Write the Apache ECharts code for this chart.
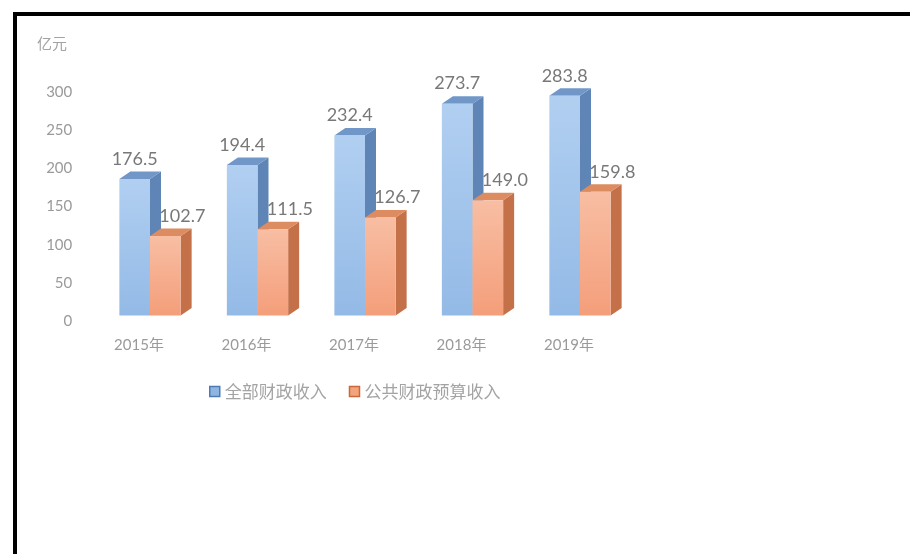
<!DOCTYPE html>
<html>
<head>
<meta charset="utf-8">
<script src="https://cdn.jsdelivr.net/npm/echarts@6/dist/echarts.min.js"></script>
<style>
  html, body { margin: 0; padding: 0; background: #ffffff; }
  #frame { position: absolute; left: 13px; top: 12px; width: 897px; height: 542px;
           border-left: 4px solid #000; border-top: 4px solid #000; box-sizing: border-box; }
  #chart { position: absolute; left: 0; top: 0; width: 910px; height: 554px; }
</style>
</head>
<body>
<div id="chart"></div>
<div id="frame"></div>
<script>
// Revenue by year, 亿元
const years = ['2015年', '2016年', '2017年', '2018年', '2019年'];
const totalRevenue = [176.5, 194.4, 232.4, 273.7, 283.8];
const budgetRevenue = [102.7, 111.5, 126.7, 149.0, 159.8];
const seriesNames = ['全部财政收入', '公共财政预算收入'];
const yTicks = [0, 50, 100, 150, 200, 250, 300];

// Shading for each pseudo-3D column: front gradient, top and side faces
const palette = [
  { frontTop: '#b1cff1', frontBottom: '#93bae6', top: '#7097c8', side: '#5f85b6', label: '#787878', legend: '#8fb5e2', legendBorder: '#4f7bb3' },
  { frontTop: '#f8bea3', frontBottom: '#f49e7a', top: '#dc8c60', side: '#c4714a', label: '#787878', legend: '#f3a47c', legendBorder: '#c9683a' }
];

const DEPTH_X = 11;
const DEPTH_Y = 7.5;

function makeRenderer(seriesIdx) {
  const c = palette[seriesIdx];
  return function (params, api) {
    const cat = api.value(0);
    const val = api.value(1);
    const base = api.coord([cat, 0]);
    const top = api.coord([cat, val]);
    const band = api.size([1, 0])[0];
    const w = band * 0.285;
    const x0 = seriesIdx === 0 ? base[0] - w : base[0];
    const x1 = x0 + w;
    const yb = base[1];
    const yt = top[1];
    const children = [
      { // side face
        type: 'polygon',
        shape: { points: [[x1, yt], [x1 + DEPTH_X, yt - DEPTH_Y], [x1 + DEPTH_X, yb - DEPTH_Y], [x1, yb]] },
        style: { fill: c.side }
      },
      { // top face
        type: 'polygon',
        shape: { points: [[x0, yt], [x0 + DEPTH_X, yt - DEPTH_Y], [x1 + DEPTH_X, yt - DEPTH_Y], [x1, yt]] },
        style: { fill: c.top }
      },
      { // front face
        type: 'rect',
        shape: { x: x0, y: yt, width: w, height: yb - yt },
        style: {
          fill: new echarts.graphic.LinearGradient(0, 0, 0, 1, [
            { offset: 0, color: c.frontTop },
            { offset: 1, color: c.frontBottom }
          ])
        }
      },
      { // value label
        type: 'text',
        x: x0 + w / 2 + (seriesIdx === 0 ? 0 : 17),
        y: yt - 20,
        style: {
          text: val.toFixed(1),
          fill: c.label,
          font: '18px Lato, "Open Sans", sans-serif',
          align: 'center',
          verticalAlign: 'middle'
        }
      }
    ];
    return { type: 'group', children: children };
  };
}

const chart = echarts.init(document.getElementById('chart'), null, { renderer: 'canvas' });

chart.setOption({
  animation: false,
  backgroundColor: '#ffffff',
  grid: [
    { left: 96.25, width: 537.5, top: 83.3, height: 232.2 },
    { left: 96.25, width: 537.5, top: 92, height: 229 }
  ],
  xAxis: [
    {
      type: 'category', gridIndex: 0, data: years,
      axisLine: { show: false }, axisTick: { show: false },
      axisLabel: {
        margin: 22, color: '#9a9a9a', fontSize: 15,
        fontFamily: 'Lato, "Noto Sans CJK SC", sans-serif',
        padding: [0, 22, 0, 0]
      }
    },
    { type: 'category', gridIndex: 1, data: years, show: false }
  ],
  yAxis: [
    { type: 'value', gridIndex: 0, min: 0, max: 300, interval: 50, show: false },
    {
      type: 'value', gridIndex: 1, min: yTicks[0], max: yTicks[yTicks.length - 1], interval: 50,
      axisLine: { show: false }, axisTick: { show: false }, splitLine: { show: false },
      axisLabel: { margin: 24, color: '#9a9a9a', fontSize: 15, fontFamily: 'Lato, sans-serif' }
    }
  ],
  legend: {
    left: 209, top: 383, padding: 0,
    itemWidth: 10, itemHeight: 10, itemGap: 22,
    textStyle: { color: '#a3a3a3', fontSize: 17, fontFamily: '"Noto Sans CJK SC", sans-serif' },
    data: [
      { name: seriesNames[0], icon: 'rect', itemStyle: { color: palette[0].legend, borderColor: palette[0].legendBorder, borderWidth: 1.5 } },
      { name: seriesNames[1], icon: 'rect', itemStyle: { color: palette[1].legend, borderColor: palette[1].legendBorder, borderWidth: 1.5 } }
    ]
  },
  graphic: [
    {
      type: 'text', left: 37, top: 36,
      style: { text: '亿元', fill: '#a3a3a3', font: '15px "Noto Sans CJK SC", sans-serif' }
    }
  ],
  series: [
    {
      name: seriesNames[0], type: 'custom', xAxisIndex: 0, yAxisIndex: 0,
      itemStyle: { color: palette[0].legend },
      renderItem: makeRenderer(0),
      data: years.map((y, i) => [i, totalRevenue[i]]),
      encode: { x: 0, y: 1 }
    },
    {
      name: seriesNames[1], type: 'custom', xAxisIndex: 0, yAxisIndex: 0,
      itemStyle: { color: palette[1].legend },
      renderItem: makeRenderer(1),
      data: years.map((y, i) => [i, budgetRevenue[i]]),
      encode: { x: 0, y: 1 }
    }
  ]
});
</script>
</body>
</html>
